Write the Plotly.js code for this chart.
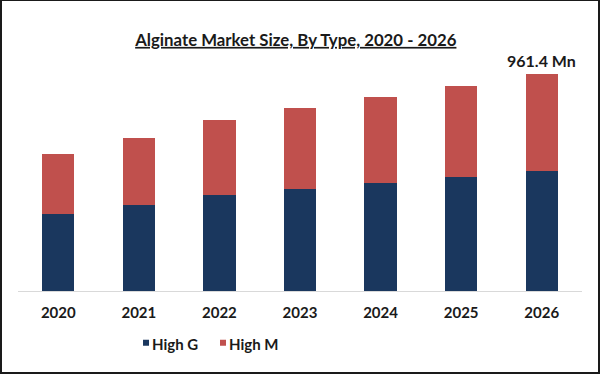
<!DOCTYPE html>
<html>
<head>
<meta charset="utf-8">
<script src="https://cdn.plot.ly/plotly-3.0.1.min.js"></script>
<style>
  html, body { margin: 0; padding: 0; background: #fff; }
  #wrap { position: relative; width: 600px; height: 374px; }
  #chart { width: 600px; height: 374px; }
  #frame { position: absolute; left: 0; top: 0; width: 600px; height: 374px; box-sizing: border-box;
           border: 2px solid #1a1a1a; border-top-width: 1px; pointer-events: none; }
</style>
</head>
<body>
<div id="wrap">
  <div id="chart"></div>
  <div id="frame"></div>
</div>
<script>
const years = ['2020', '2021', '2022', '2023', '2024', '2025', '2026'];
const highG = [339, 379, 423, 450, 477, 503, 530];
const highM = [268, 299, 335, 361, 383, 405, 431.4];
const seriesNames = ['High G', 'High M'];
const unit = ' Mn';

const lastIdx = years.length - 1;
const lastTotal = highG[lastIdx] + highM[lastIdx];

const FONT = 'Lato, "Open Sans", sans-serif';
const legendFont = { family: FONT, size: 15, color: '#1a1a1a', weight: 'bold' };

const traces = [
  { type: 'bar', name: seriesNames[0], x: years, y: highG,
    marker: { color: '#1a375e' }, legend: 'legend' },
  { type: 'bar', name: seriesNames[1], x: years, y: highM,
    marker: { color: '#c0504d' }, legend: 'legend2' }
];

const layout = {
  width: 600, height: 374,
  margin: { l: 18, r: 18, t: 60, b: 83 },
  paper_bgcolor: '#ffffff', plot_bgcolor: '#ffffff',
  barmode: 'stack',
  bargap: 0.6,
  showlegend: true,
  font: { family: FONT, color: '#1a1a1a' },
  title: {
    text: '<span style="text-decoration:underline"><b>Alginate Market Size, By Type, 2020 - 2026</b></span>',
    font: { family: FONT, size: 16.8, color: '#1a1a1a' },
    x: 0.493, xanchor: 'center', y: 0.893, yanchor: 'middle'
  },
  xaxis: {
    type: 'category',
    showline: true, linecolor: '#d9d9d9', linewidth: 1,
    ticks: '', showgrid: false, zeroline: false,
    tickfont: { family: FONT, size: 15, color: '#1a1a1a', weight: 'bold' },
    ticklabelstandoff: 8
  },
  yaxis: {
    range: [0, 1022], showticklabels: false, showgrid: false, zeroline: false, showline: false, ticks: ''
  },
  legend: {
    orientation: 'h', x: 0.1667, xanchor: 'left', y: -0.229, yanchor: 'middle',
    font: legendFont, bgcolor: 'rgba(0,0,0,0)'
  },
  legend2: {
    orientation: 'h', x: 0.3032, xanchor: 'left', y: -0.229, yanchor: 'middle',
    font: legendFont, bgcolor: 'rgba(0,0,0,0)'
  },
  annotations: [{
    x: lastIdx, y: lastTotal, xref: 'x', yref: 'y',
    text: lastTotal.toFixed(1) + unit, showarrow: false,
    yanchor: 'bottom', yshift: 2,
    font: { family: FONT, size: 16, color: '#1a1a1a', weight: 'bold' }
  }]
};

function shrinkLegendSymbols(gd) {
  gd.querySelectorAll('g.legendpoints path').forEach(function (p) {
    p.setAttribute('d', 'M3,3H-3V-3H3Z');
    p.setAttribute('transform', 'translate(34,-1)');
  });
}

const gdEl = document.getElementById('chart');
Plotly.newPlot(gdEl, traces, layout, { displayModeBar: false, staticPlot: true })
  .then(function (gd) {
    shrinkLegendSymbols(gd);
    gd.on('plotly_afterplot', function () { shrinkLegendSymbols(gd); });
    setTimeout(function () { shrinkLegendSymbols(gd); }, 30);
    setTimeout(function () { shrinkLegendSymbols(gd); }, 300);
  });
</script>
</body>
</html>
